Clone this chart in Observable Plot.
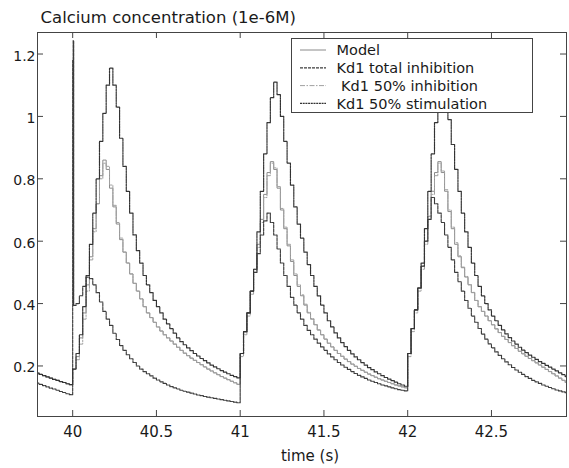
<!DOCTYPE html>
<html><head><meta charset="utf-8">
<script src="https://cdn.jsdelivr.net/npm/d3@7"></script>
<script src="https://cdn.jsdelivr.net/npm/@observablehq/plot@0.6"></script>
<style>body{margin:0;background:#fff;} svg{display:block}</style>
</head><body><div id="chart"></div>
<script>
const titleText = "Calcium concentration (1e-6M)";
const xLabelText = "time (s)";
const seriesNames = ["Model", "Kd1 total inhibition", " Kd1 50% inhibition", "Kd1 50% stimulation"];
const xTicks = [40, 40.5, 41, 41.5, 42, 42.5];
const xTickLabels = ["40", "40.5", "41", "41.5", "42", "42.5"];
const yTicks = [0.2, 0.4, 0.6, 0.8, 1, 1.2];
const yTickLabels = ["0.2", "0.4", "0.6", "0.8", "1", "1.2"];

const time = [
  39.78,39.80,39.82,39.84,39.86,39.88,39.90,39.92,39.94,39.96,39.98,
  40.00,40.003,40.006,40.02,40.04,40.06,40.08,40.10,40.12,40.14,40.16,40.18,40.20,40.22,40.24,40.26,40.28,40.30,40.32,40.34,40.36,40.38,40.40,
  40.42,40.44,40.46,40.48,40.50,40.52,40.54,40.56,40.58,40.60,40.62,40.64,40.66,40.68,40.70,40.72,40.74,40.76,40.78,40.80,40.82,40.84,40.86,40.88,40.90,40.92,40.94,40.96,40.98,
  41.00,41.02,41.04,41.06,41.08,41.10,41.12,41.14,41.16,41.18,41.20,41.22,41.24,41.26,41.28,41.30,41.32,41.34,41.36,41.38,
  41.40,41.42,41.44,41.46,41.48,41.50,41.52,41.54,41.56,41.58,41.60,41.62,41.64,41.66,41.68,41.70,41.72,41.74,41.76,41.78,
  41.80,41.82,41.84,41.86,41.88,41.90,41.92,41.94,41.96,41.98,
  42.00,42.02,42.04,42.06,42.08,42.10,42.12,42.14,42.16,42.18,42.20,42.22,42.24,42.26,42.28,42.30,42.32,42.34,42.36,42.38,
  42.40,42.42,42.44,42.46,42.48,42.50,42.52,42.54,42.56,42.58,42.60,42.62,42.64,42.66,42.68,42.70,42.72,42.74,42.76,42.78,
  42.80,42.82,42.84,42.86,42.88,42.90,42.92,42.94,42.96
];

const model = [
  0.177,0.173,0.169,0.165,0.161,0.157,0.154,0.150,0.147,0.143,0.140,
  0.19,0.19,0.19,
  0.23,0.29,0.37,0.46,0.55,0.64,0.72,0.81,0.86,0.83,
  0.77,0.71,0.655,0.605,0.565,0.53,0.495,0.465,0.44,0.415,
  0.39,0.37,0.355,0.34,0.325,0.312,0.30,0.29,0.28,0.27,
  0.26,0.25,0.241,0.233,0.225,0.218,0.211,0.204,0.197,0.19,
  0.184,0.178,0.172,0.166,0.161,0.156,0.151,0.146,0.141,
  0.24,0.31,0.37,0.44,0.51,0.59,0.67,0.75,0.82,0.855,
  0.83,0.77,0.70,0.64,0.585,0.535,0.49,0.455,0.425,0.395,
  0.37,0.35,0.332,0.315,0.30,0.286,0.273,0.261,0.25,0.24,
  0.231,0.222,0.214,0.206,0.199,0.192,0.186,0.18,0.174,0.169,
  0.164,0.159,0.155,0.151,0.147,0.143,0.139,0.136,0.133,0.13,
  0.24,0.32,0.38,0.45,0.52,0.60,0.68,0.76,0.82,0.855,
  0.82,0.76,0.695,0.64,0.59,0.55,0.515,0.485,0.46,0.435,
  0.41,0.39,0.375,0.36,0.345,0.332,0.319,0.307,0.295,0.285,
  0.275,0.265,0.256,0.247,0.239,0.231,0.224,0.217,0.21,0.203,
  0.196,0.189,0.182,0.175,0.168,0.161,0.154,0.147,0.14
];

const totalInhibition = [
  0.145,0.141,0.137,0.133,0.129,0.126,0.122,0.118,0.115,0.111,0.108,
  1.18,1.243,0.394,
  0.40,0.425,0.455,0.485,0.48,0.46,0.435,0.405,0.375,0.35,
  0.33,0.305,0.285,0.265,0.25,0.236,0.223,0.211,0.20,0.19,
  0.182,0.175,0.168,0.161,0.155,0.149,0.144,0.139,0.134,0.13,
  0.126,0.122,0.119,0.116,0.113,0.11,0.107,0.105,0.102,0.10,
  0.098,0.096,0.094,0.092,0.09,0.088,0.086,0.084,0.082,
  0.24,0.31,0.37,0.44,0.50,0.56,0.62,0.665,0.69,0.66,
  0.62,0.575,0.53,0.49,0.455,0.42,0.395,0.37,0.35,0.33,
  0.314,0.30,0.286,0.273,0.261,0.25,0.239,0.229,0.22,0.211,
  0.203,0.196,0.189,0.182,0.176,0.17,0.165,0.16,0.155,0.151,
  0.147,0.143,0.139,0.136,0.133,0.13,0.127,0.124,0.122,0.12,
  0.24,0.32,0.38,0.45,0.52,0.60,0.67,0.74,0.72,0.69,
  0.66,0.62,0.58,0.54,0.50,0.47,0.44,0.41,0.385,0.36,
  0.34,0.32,0.302,0.286,0.271,0.258,0.245,0.234,0.223,0.213,
  0.204,0.195,0.187,0.18,0.173,0.166,0.16,0.154,0.149,0.144,
  0.139,0.135,0.131,0.127,0.123,0.12,0.117,0.114,0.111
];

const inhibition50 = [
  0.177,0.173,0.169,0.165,0.161,0.157,0.154,0.150,0.147,0.143,0.140,
  0.19,0.19,0.19,
  0.22,0.27,0.35,0.44,0.54,0.63,0.72,0.80,0.85,0.84,
  0.78,0.715,0.66,0.61,0.565,0.53,0.495,0.465,0.44,0.415,
  0.39,0.37,0.355,0.34,0.325,0.312,0.30,0.29,0.28,0.27,
  0.26,0.25,0.241,0.233,0.225,0.218,0.211,0.204,0.197,0.19,
  0.184,0.178,0.172,0.166,0.161,0.156,0.151,0.146,0.141,
  0.23,0.30,0.36,0.43,0.50,0.58,0.66,0.74,0.81,0.85,
  0.835,0.775,0.705,0.645,0.59,0.54,0.495,0.46,0.428,0.398,
  0.372,0.352,0.333,0.316,0.30,0.286,0.273,0.261,0.25,0.24,
  0.231,0.222,0.214,0.206,0.199,0.192,0.186,0.18,0.174,0.169,
  0.164,0.159,0.155,0.151,0.147,0.143,0.139,0.136,0.133,0.13,
  0.23,0.31,0.37,0.44,0.51,0.59,0.67,0.75,0.81,0.85,
  0.825,0.765,0.70,0.645,0.595,0.553,0.517,0.487,0.461,0.436,
  0.41,0.39,0.375,0.36,0.345,0.332,0.319,0.307,0.295,0.285,
  0.275,0.265,0.256,0.247,0.239,0.231,0.224,0.217,0.21,0.203,
  0.196,0.189,0.182,0.175,0.168,0.161,0.154,0.147,0.14
];

const stimulation50 = [
  0.177,0.173,0.169,0.165,0.161,0.157,0.154,0.150,0.147,0.143,0.140,
  0.19,0.19,0.19,
  0.24,0.30,0.39,0.49,0.59,0.69,0.80,0.92,1.01,1.10,
  1.155,1.10,1.03,0.93,0.84,0.76,0.69,0.62,0.57,0.53,
  0.49,0.46,0.435,0.41,0.39,0.37,0.35,0.335,0.32,0.305,
  0.29,0.278,0.268,0.258,0.249,0.24,0.232,0.224,0.217,0.21,
  0.203,0.197,0.191,0.185,0.18,0.175,0.17,0.166,0.162,
  0.24,0.31,0.37,0.44,0.51,0.63,0.76,0.88,0.98,1.06,
  1.11,1.07,1.00,0.92,0.85,0.78,0.71,0.655,0.61,0.565,
  0.525,0.49,0.455,0.425,0.395,0.37,0.345,0.325,0.306,0.29,
  0.275,0.262,0.25,0.239,0.229,0.22,0.211,0.203,0.195,0.188,
  0.181,0.175,0.169,0.163,0.158,0.153,0.148,0.143,0.139,0.135,
  0.24,0.32,0.38,0.45,0.53,0.64,0.76,0.88,0.98,1.05,
  1.09,1.05,0.99,0.91,0.83,0.76,0.69,0.63,0.58,0.53,
  0.49,0.455,0.425,0.40,0.38,0.36,0.345,0.33,0.316,0.303,
  0.291,0.28,0.27,0.26,0.251,0.243,0.235,0.228,0.221,0.214,
  0.208,0.202,0.196,0.19,0.184,0.178,0.172,0.166,0.16
];

// ---- styling / layout ----
const W = 569, H = 468;
const mL = 37, mR = 3, mT = 32, mB = 52;
const plotW = W - mL - mR, plotH = H - mT - mB;
const FONT = "DejaVu Sans";
const styles = [
  {stroke: "#8a8a8a", dash: null, width: 1},
  {stroke: "#3c3c3c", dash: "3,1", width: 1.15},
  {stroke: "#a0a0a0", dash: "5,1.5,1.5,1.5", width: 1},
  {stroke: "#333333", dash: "2,0.7", width: 1.2}
];
const seriesValues = [model, totalInhibition, inhibition50, stimulation50];
const drawOrder = [0, 2, 1, 3];

const lineMarks = drawOrder.map(k => {
  const rows = time.map((t, i) => ({t, v: seriesValues[k][i]}));
  const s = styles[k];
  return Plot.line(rows, {
    x: "t", y: "v", curve: "step-after", clip: true,
    stroke: s.stroke, strokeWidth: s.width, strokeDasharray: s.dash
  });
});

const chart = Plot.plot({
  width: W, height: H,
  marginLeft: mL, marginRight: mR, marginTop: mT, marginBottom: mB,
  style: {fontFamily: FONT, background: "#fff", color: "#1a1a1a"},
  x: {domain: [39.79, 42.948]},
  y: {domain: [0.038, 1.269]},
  marks: [
    ...lineMarks,
    Plot.frame({stroke: "#444"}),
    Plot.ruleX(xTicks, {x: d => d, insetTop: plotH - 6, stroke: "#444"}),
    Plot.ruleX(xTicks, {x: d => d, insetBottom: plotH - 6, stroke: "#444"}),
    Plot.ruleY(yTicks, {y: d => d, insetRight: plotW - 6, stroke: "#444"}),
    Plot.ruleY(yTicks, {y: d => d, insetLeft: plotW - 6, stroke: "#444"}),
    Plot.axisX(xTicks, {anchor: "bottom", tickSize: 0, tickPadding: 10, fontSize: 15,
      tickFormat: d => xTickLabels[xTicks.indexOf(d)], label: null}),
    Plot.axisY(yTicks, {anchor: "left", tickSize: 0, tickPadding: 2, dy: 2, fontSize: 14,
      tickFormat: d => yTickLabels[yTicks.indexOf(d)], label: null}),
    Plot.text([titleText], {frameAnchor: "top-left", textAnchor: "start", lineAnchor: "bottom",
      dx: 3, dy: -10, fontSize: 16.5}),
    Plot.text([xLabelText], {frameAnchor: "bottom", lineAnchor: "bottom", dx: 8, dy: 44, fontSize: 15})
  ]
});
document.getElementById("chart").appendChild(chart);

// ---- legend ----
const svg = d3.select(chart);
const lg = svg.append("g").attr("text-anchor", "start");
lg.append("rect").attr("x", 291.5).attr("y", 38.5).attr("width", 241).attr("height", 74)
  .attr("fill", "#fff").attr("stroke", "#444");
seriesNames.forEach((name, k) => {
  const yc = 50 + k * 17.8;
  const s = styles[k];
  lg.append("line").attr("x1", 300).attr("x2", 326).attr("y1", yc).attr("y2", yc)
    .attr("stroke", s.stroke).attr("stroke-width", s.width)
    .attr("stroke-dasharray", s.dash);
  lg.append("text").attr("x", 336.5).attr("y", yc + 5.2)
    .attr("text-anchor", "start")
    .attr("font-family", FONT).attr("font-size", 14.5).attr("fill", "#1a1a1a")
    .style("white-space", "pre")
    .text(name);
});
</script>
</body></html>
